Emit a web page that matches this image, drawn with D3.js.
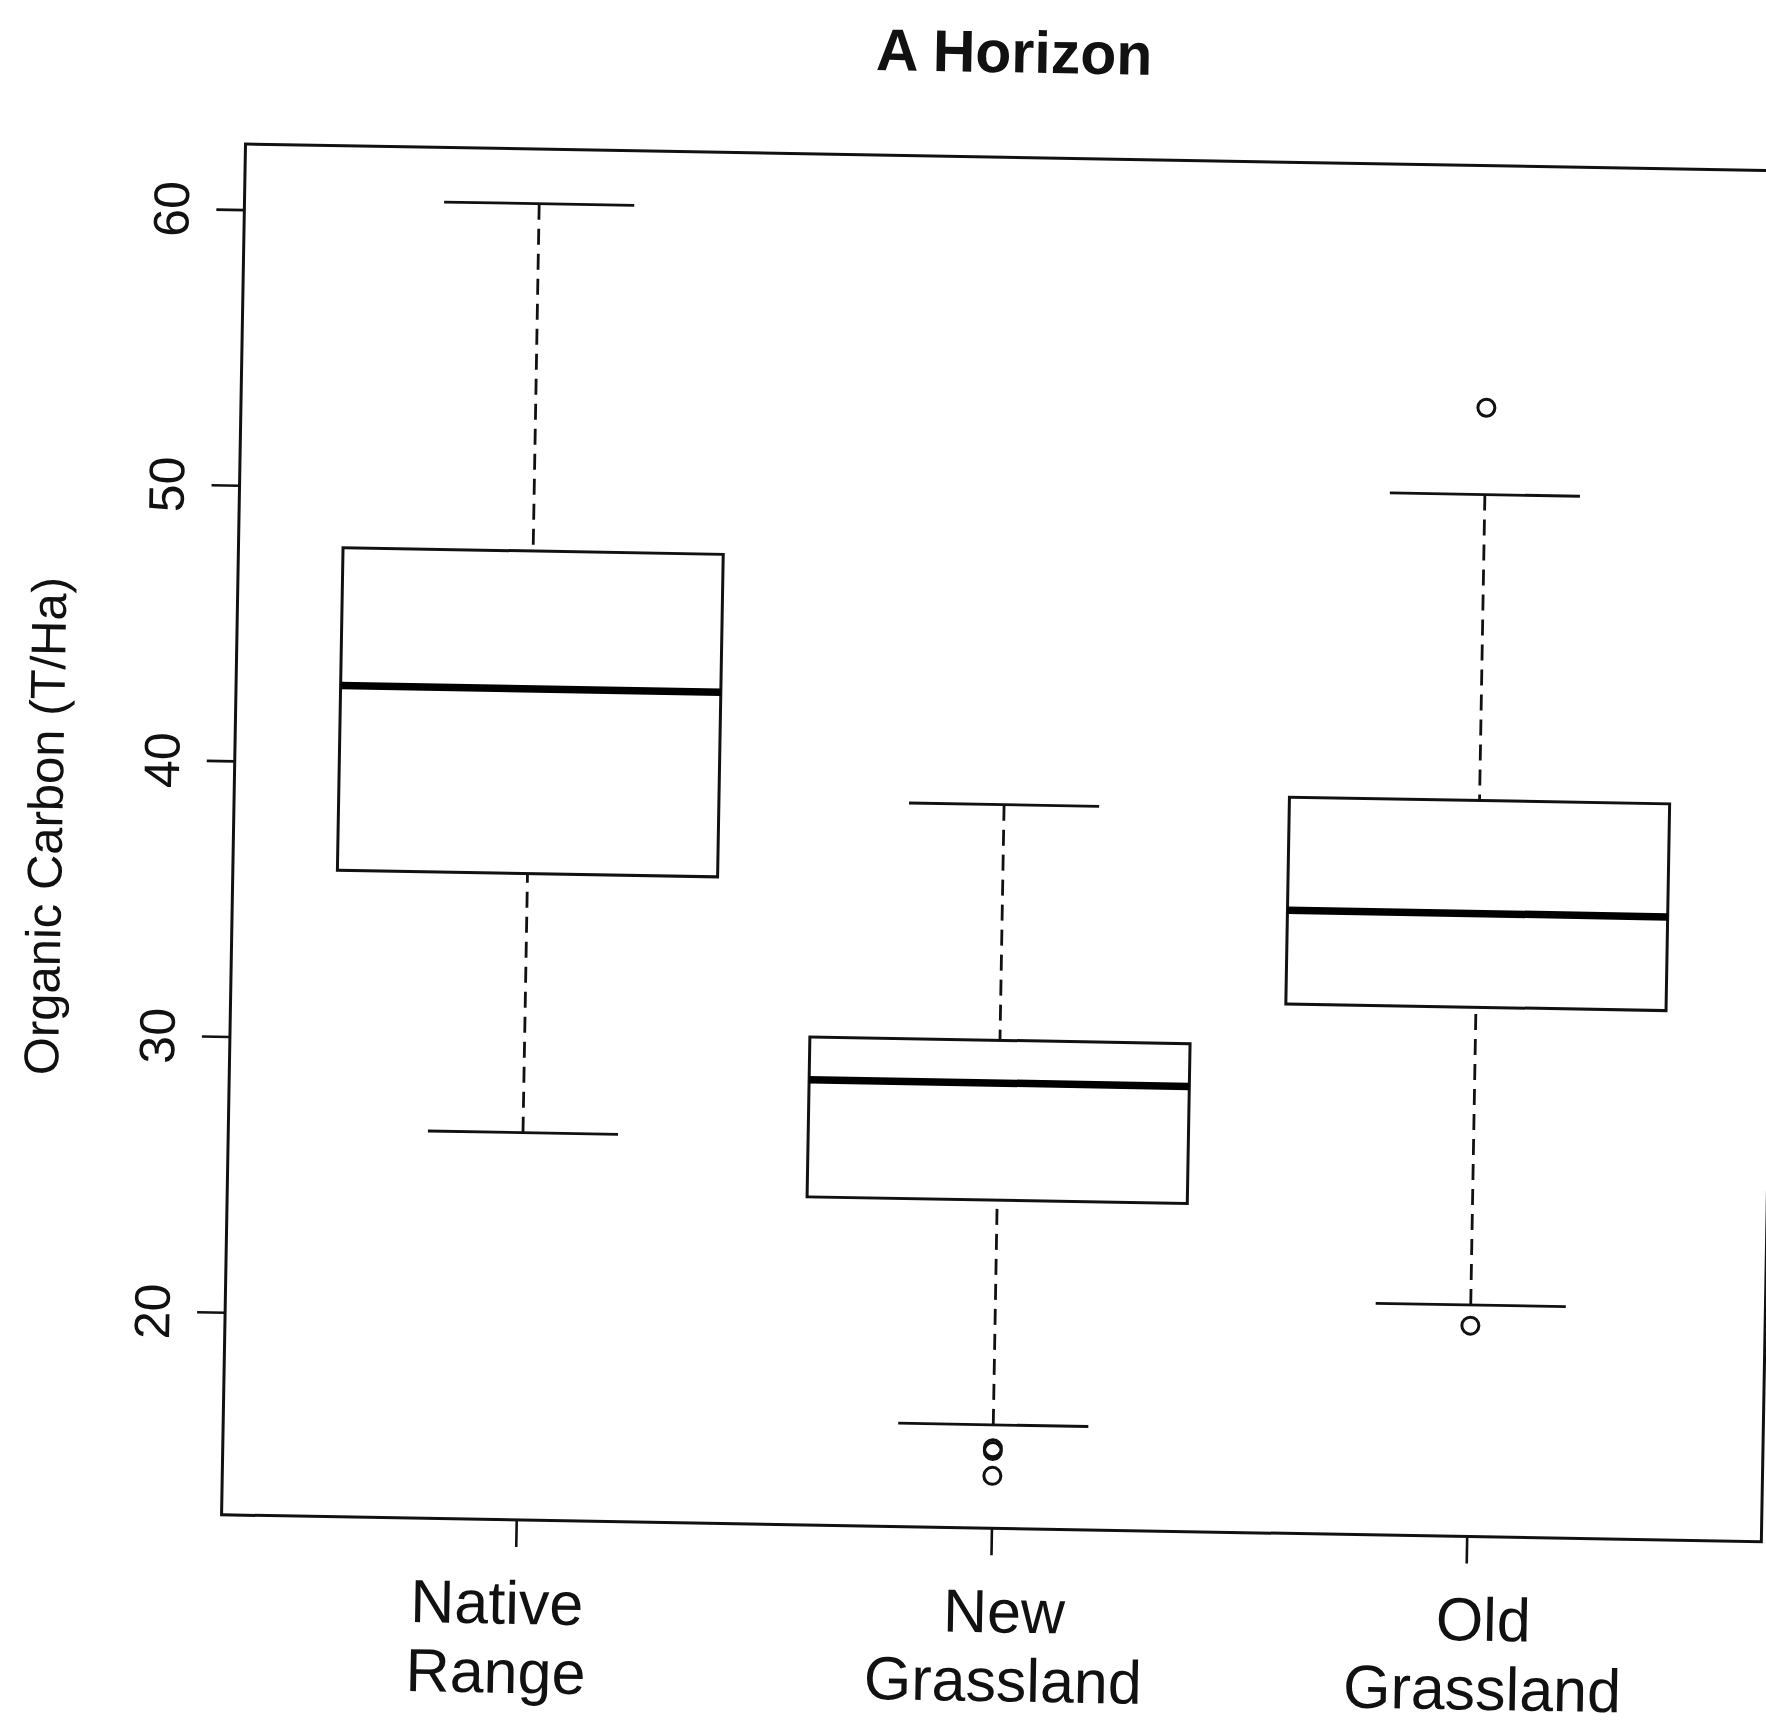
<!DOCTYPE html>
<html>
<head>
<meta charset="utf-8">
<script src="https://cdn.jsdelivr.net/npm/d3@7"></script>
<style>
  body { margin: 0; background: #fff; }
  svg { display: block; }
  text { font-family: "Liberation Sans", Arial, Helvetica, sans-serif; fill: #111; }
</style>
</head>
<body>
<div class="chart-box"></div>
<script>
// boxplot stats
var groups = ["Native Range", "New Grassland", "Old Grassland"];
var lowerWhisker = [26.7, 16.4, 21.05];
var q1 = [36.1, 24.55, 31.85];
var median = [42.8, 28.8, 35.25];
var q3 = [47.8, 30.35, 39.35];
var upperWhisker = [60.4, 38.9, 50.45];
var outliers = [[], [15.55, 15.45, 14.55], [53.6, 20.3]];
var yTicks = [20, 30, 40, 50, 60];
var yDomain = [12.65, 62.38];

var width = 1766, height = 1727;
var plotW = 1540, plotH = 1371;
var tilt = 1.0; // the scan is slightly rotated
var labelNudge = [-18, 14, 18];

var svg = d3.select(".chart-box").append("svg")
    .attr("width", width)
    .attr("height", height);

svg.append("rect")
    .attr("width", width)
    .attr("height", height)
    .attr("fill", "#fff");

var g = svg.append("g")
    .attr("transform", "translate(245.5,144) rotate(" + tilt + ")");

var x = d3.scaleLinear().domain([0.38, 3.62]).range([0, plotW]);
var y = d3.scaleLinear().domain(yDomain).range([plotH, 0]);

var boxHalf = x(1.4) - x(1); // boxwex 0.8
var capHalf = boxHalf / 2;

var stats = groups.map(function(name, i) {
  return {
    name: name,
    pos: i + 1,
    lo: lowerWhisker[i],
    q1: q1[i],
    med: median[i],
    q3: q3[i],
    hi: upperWhisker[i],
    out: outliers[i]
  };
});

// frame
g.append("rect")
    .attr("x", 0)
    .attr("y", 0)
    .attr("width", plotW)
    .attr("height", plotH)
    .attr("fill", "none")
    .attr("stroke", "#111")
    .attr("stroke-width", 3);

// y axis
var yAxis = g.append("g")
    .call(d3.axisLeft(y).tickValues(yTicks).tickSize(28).tickFormat(d3.format("d")));
yAxis.select(".domain").remove();
yAxis.selectAll(".tick line").attr("stroke", "#111").attr("stroke-width", 2.6);
yAxis.selectAll(".tick text")
    .attr("x", null)
    .attr("dy", "0.35em")
    .attr("text-anchor", "middle")
    .attr("transform", "translate(-73,0) rotate(-90)")
    .style("font-size", "50px")
    .style("font-family", "\"Liberation Sans\", Arial, sans-serif")
    .attr("fill", "#111");

// x axis ticks
var xAxis = g.append("g")
    .attr("transform", "translate(0," + plotH + ")")
    .call(d3.axisBottom(x).tickValues([1, 2, 3]).tickSize(27).tickFormat(""));
xAxis.select(".domain").remove();
xAxis.selectAll(".tick line").attr("stroke", "#111").attr("stroke-width", 2.6);

// x labels, two lines each
var xl = g.append("g").selectAll("text")
    .data(stats)
    .enter().append("text")
    .attr("text-anchor", "middle")
    .style("font-size", "61px")
    .attr("transform", function(d, i) { return "translate(" + (x(d.pos) + labelNudge[i]) + "," + (plotH + 104) + ")"; });
xl.selectAll("tspan")
    .data(function(d) { return d.name.split(" "); })
    .enter().append("tspan")
    .attr("x", 0)
    .attr("y", function(d, i) { return i * 69; })
    .text(function(d) { return d; });

// y label
g.append("text")
    .attr("transform", "translate(-186," + (plotH / 2) + ") rotate(-90)")
    .attr("text-anchor", "middle")
    .attr("dy", "0.3em")
    .style("font-size", "49px")
    .text("Organic Carbon (T/Ha)");

// title
g.append("text")
    .attr("x", plotW / 2 - 3)
    .attr("y", -85)
    .attr("text-anchor", "middle")
    .style("font-size", "59px")
    .style("font-weight", "bold")
    .attr("fill", "#000")
    .text("A Horizon");

var box = g.append("g").selectAll("g")
    .data(stats)
    .enter().append("g");

// whiskers, dashed, drawn from cap to box
box.append("line")
    .attr("x1", function(d) { return x(d.pos); })
    .attr("x2", function(d) { return x(d.pos); })
    .attr("y1", function(d) { return y(d.hi); })
    .attr("y2", function(d) { return y(d.q3); })
    .attr("stroke", "#111")
    .attr("stroke-width", 2.8)
    .attr("stroke-dasharray", "16,9");

box.append("line")
    .attr("x1", function(d) { return x(d.pos); })
    .attr("x2", function(d) { return x(d.pos); })
    .attr("y1", function(d) { return y(d.lo); })
    .attr("y2", function(d) { return y(d.q1); })
    .attr("stroke", "#111")
    .attr("stroke-width", 2.8)
    .attr("stroke-dasharray", "16,9");

// caps
["hi", "lo"].forEach(function(k) {
  box.append("line")
      .attr("x1", function(d) { return x(d.pos) - capHalf; })
      .attr("x2", function(d) { return x(d.pos) + capHalf; })
      .attr("y1", function(d) { return y(d[k]); })
      .attr("y2", function(d) { return y(d[k]); })
      .attr("stroke", "#111")
      .attr("stroke-width", 2.8);
});

// boxes
box.append("rect")
    .attr("x", function(d) { return x(d.pos) - boxHalf; })
    .attr("width", boxHalf * 2)
    .attr("y", function(d) { return y(d.q3); })
    .attr("height", function(d) { return y(d.q1) - y(d.q3); })
    .attr("fill", "none")
    .attr("stroke", "#111")
    .attr("stroke-width", 3);

// medians
box.append("line")
    .attr("x1", function(d) { return x(d.pos) - boxHalf; })
    .attr("x2", function(d) { return x(d.pos) + boxHalf; })
    .attr("y1", function(d) { return y(d.med); })
    .attr("y2", function(d) { return y(d.med); })
    .attr("stroke", "#000")
    .attr("stroke-width", 7.5);

// outliers
box.selectAll("circle")
    .data(function(d) { return d.out.map(function(v) { return { pos: d.pos, v: v }; }); })
    .enter().append("circle")
    .attr("cx", function(d) { return x(d.pos); })
    .attr("cy", function(d) { return y(d.v); })
    .attr("r", 8.5)
    .attr("fill", "none")
    .attr("stroke", "#111")
    .attr("stroke-width", 3);
</script>
</body>
</html>
